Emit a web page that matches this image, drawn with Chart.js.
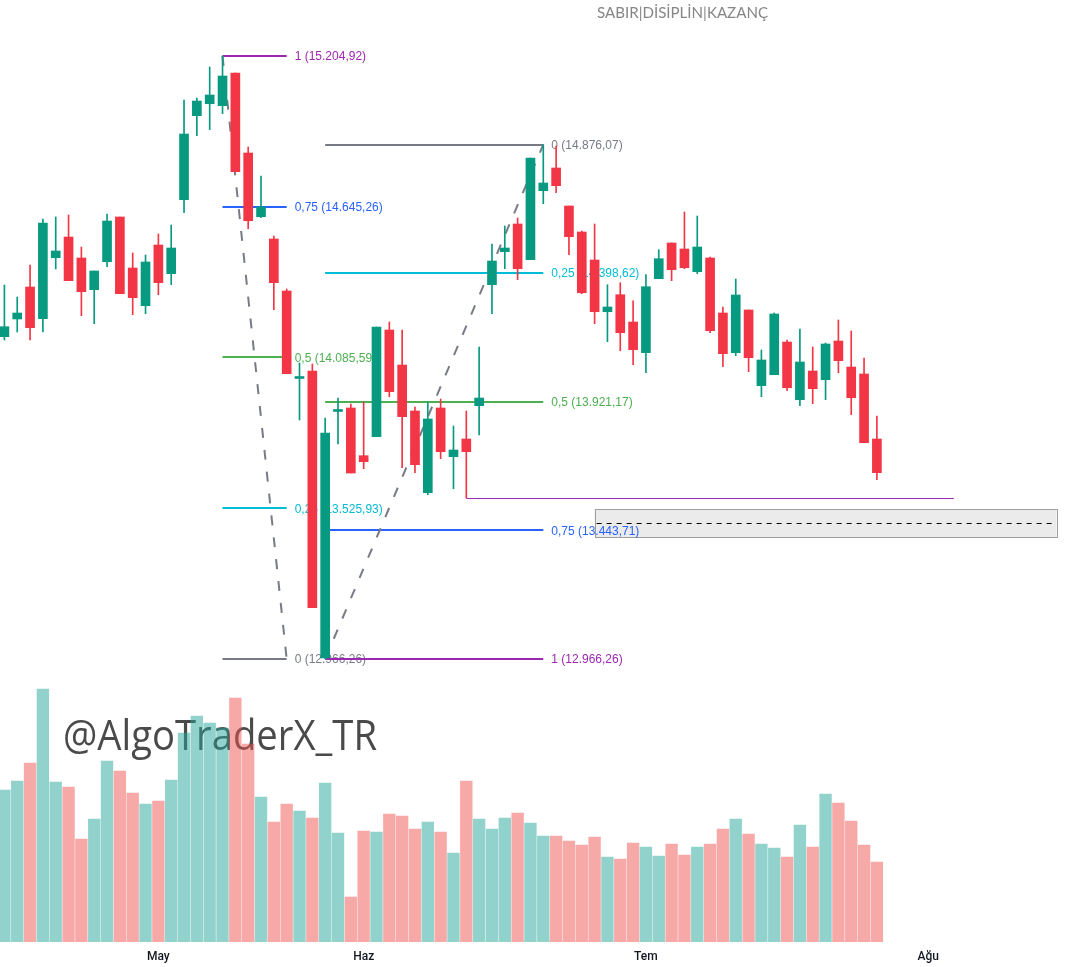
<!DOCTYPE html>
<html><head><meta charset="utf-8">
<script src="https://cdn.jsdelivr.net/npm/chart.js@4.4.1/dist/chart.umd.min.js"></script>
<style>html,body{margin:0;padding:0;background:#fff;overflow:hidden}#wrap{width:1085px;height:967px;position:relative}canvas{display:block}</style>
</head><body><div id="wrap"><canvas id="c" width="1085" height="967"></canvas></div>
<script>
// ---- data (daily candles, index 0..68) ----
const opens = [14162.8,14228.5,14347.3,14229.6,14456.1,14532.9,14455.0,14337.3,14441.2,14607.2,
14417.8,14277.9,14503.2,14396.7,14671.4,14983.3,15027.8,15020.4,15141.8,14844.8,
14608.3,14525.5,14332.5,14007.6,14035.4,12970.0,13885.1,13898.1,13721.0,13791.5,
14187.7,14057.7,13887.0,13583.6,13898.1,13717.3,13783.0,13906.6,14355.8,14478.4,
14581.2,14448.7,14704.8,14789.1,14648.0,14551.5,14447.5,14255.6,14318.7,14217.4,
14103.4,14378.1,14510.7,14488.4,14404.1,14455.0,14250.8,14103.4,14261.9,13980.9,
14021.7,14143.1,13928.9,14035.4,14003.2,14146.8,14050.3,14024.3,13783.0];
const highs = [14354.7,14310.2,14429.0,14599.8,14607.2,14614.6,14495.8,14406.7,14618.3,14607.2,
14473.5,14466.1,14544.1,14577.5,15041.5,15049.0,15164.1,15204.92,15141.8,14867.1,
14759.4,14536.6,14339.9,14065.1,14061.4,13861.0,13935.2,13912.9,13920.4,14198.8,
14217.4,14187.7,13901.8,13920.4,13931.5,13831.3,13887.0,14124.6,14506.9,14573.8,
14603.5,14826.2,14876.07,14870.8,14648.0,14555.2,14581.2,14355.8,14363.3,14296.4,
14393.0,14485.8,14510.7,14625.7,14610.9,14458.7,14273.1,14377.0,14261.9,14113.4,
14250.8,14150.5,14191.4,14124.6,14139.4,14224.8,14184.0,14083.7,13868.4];
const lows = [14150.5,14180.2,14150.5,14180.2,14414.1,14370.7,14240.8,14211.0,14422.7,14322.4,
14244.5,14248.2,14318.7,14355.8,14623.1,14909.0,14931.3,14990.7,14775.4,14563.7,
14604.6,14263.0,14025.4,13853.5,13156.7,12966.26,13764.4,13656.8,13672.7,13791.5,
13940.0,13676.4,13657.9,13576.2,13709.9,13598.5,13564.0,13797.8,14248.2,14415.2,
14374.4,14448.7,14656.6,14697.4,14467.2,14322.4,14211.0,14144.2,14110.8,14058.8,
14029.1,14378.1,14370.7,14415.2,14396.7,14177.6,14051.4,14092.3,14032.9,13940.0,
14021.7,13962.3,13906.6,13914.1,13928.9,14029.1,13873.2,13769.3,13631.9];
const closes = [14199.9,14250.8,14196.2,14584.9,14481.0,14370.7,14329.9,14406.7,14592.3,14322.4,
14307.6,14440.1,14363.3,14492.1,14915.3,15037.8,15060.1,15130.6,14775.4,14593.4,
14644.3,14363.3,14025.4,14011.3,13156.7,13805.3,13888.8,13656.8,13698.7,14198.8,
13958.6,13865.8,13687.6,13857.3,13735.8,13742.2,13735.8,13935.2,14443.8,14492.1,
14415.2,14826.2,14733.4,14723.4,14534.0,14326.1,14255.6,14273.1,14177.6,14114.5,
14348.4,14452.4,14411.5,14419.0,14495.8,14185.1,14099.7,14317.6,14084.8,14076.3,
14247.1,13973.4,14068.9,13969.7,14135.7,14073.7,13936.3,13769.3,13657.9];
const volumes = [60.8,64.4,71.6,101.2,64.0,62.0,41.2,49.2,72.4,68.4,
59.6,55.2,56.4,64.8,83.6,90.4,87.6,85.6,97.6,79.2,
58.0,48.0,55.2,52.4,49.6,63.6,43.6,18.0,44.4,44.0,
51.2,50.4,45.2,48.0,44.0,35.6,64.4,49.2,45.2,49.6,
51.6,47.6,42.4,42.4,40.4,38.8,42.0,34.0,33.2,39.6,
38.0,34.4,39.2,34.8,38.0,39.2,45.2,49.2,43.2,39.2,
37.6,34.0,46.8,38.0,59.2,55.6,48.4,38.8,32.0];

// month tick positions (bar index) and labels
const monthTickIndex = [12, 28, 50, 72];
const monthLabels = ['May', 'Haz', 'Tem', 'Ağu'];

// Fibonacci retracement #1 (bar 17 high -> bar 22)
const fib1Start = 17, fib1End = 22;
const fib1Ratios = ['1', '0,75', '0,5', '0,25', '0'];
const fib1Prices = [15204.92, 14645.26, 14085.59, 13525.93, 12966.26];
// Fibonacci retracement #2 (bar 25 low -> bar 42 high)
const fib2Start = 25, fib2End = 42;
const fib2Ratios = ['0', '0,25', '0,5', '0,75', '1'];
const fib2Prices = [14876.07, 14398.62, 13921.17, 13443.71, 12966.26];

// horizontal line from bar 36 low
const hLineStart = 36, hLineEnd = 74;
// rectangle zone
const zoneStart = 46, zoneEnd = 82;
const zoneTop = 13523.1, zoneBottom = 13419.2;

const UP = '#089981', DN = '#F23645';
const VUP = 'rgba(38,166,154,0.5)', VDN = 'rgba(239,83,80,0.5)';
const ratioColor = {'1':'#9C27B0','0,75':'#2962FF','0,5':'#4CAF50','0,25':'#00BCD4','0':'#787B86'};

const idx = opens.map((_, i) => i);
const isUp = i => closes[i] >= opens[i];

function fmtTR(v){
  const s = v.toFixed(2).split('.');
  return s[0].replace(/\B(?=(\d{3})+(?!\d))/g, '.') + ',' + s[1];
}

const drawings = {
  id: 'drawings',
  beforeDatasetsDraw(chart){
    const {ctx, chartArea: a, scales: {x, y}} = chart;
    ctx.save();
    ctx.beginPath(); ctx.rect(a.left, a.top, a.right - a.left, a.bottom - a.top); ctx.clip();

    // watermark
    ctx.font = '42px "Open Sans"';
    const wt = '@AlgoTraderX_TR';
    const w = ctx.measureText(wt).width;
    ctx.save();
    ctx.translate(63, 750);
    ctx.scale(314 / w, 1);
    ctx.fillStyle = '#4a4a4a';
    ctx.textBaseline = 'alphabetic';
    ctx.fillText(wt, 0, 0);
    ctx.restore();

    // rectangle zone
    const rx1 = x.getPixelForValue(zoneStart), rx2 = x.getPixelForValue(zoneEnd);
    const ry1 = y.getPixelForValue(zoneTop), ry2 = y.getPixelForValue(zoneBottom);
    ctx.fillStyle = '#EBEBEB';
    ctx.fillRect(rx1, ry1, rx2 - rx1, ry2 - ry1);
    ctx.strokeStyle = '#9E9E9E'; ctx.lineWidth = 1;
    ctx.strokeRect(Math.round(rx1) + 0.5, Math.round(ry1) + 0.5, Math.round(rx2 - rx1), Math.round(ry2 - ry1));
    const rmid = Math.round(y.getPixelForValue((zoneTop + zoneBottom) / 2)) + 0.5;
    ctx.setLineDash([5, 5]);
    ctx.strokeStyle = '#000';
    ctx.beginPath(); ctx.moveTo(rx1 + 2, rmid); ctx.lineTo(rx2 - 4, rmid); ctx.stroke();
    ctx.setLineDash([]);

    // horizontal purple line
    const hy = Math.round(y.getPixelForValue(lows[hLineStart])) + 0.5;
    ctx.strokeStyle = '#9C27B0'; ctx.lineWidth = 1;
    ctx.beginPath(); ctx.moveTo(x.getPixelForValue(hLineStart), hy); ctx.lineTo(x.getPixelForValue(hLineEnd), hy); ctx.stroke();

    // fibs
    function drawFib(s, e, ratios, prices, trendFrom, trendTo){
      const x1 = x.getPixelForValue(s), x2 = x.getPixelForValue(e);
      ctx.lineWidth = 2;
      ratios.forEach((r, k) => {
        const py = Math.round(y.getPixelForValue(prices[k]));
        ctx.strokeStyle = ratioColor[r];
        ctx.beginPath(); ctx.moveTo(x1, py); ctx.lineTo(x2, py); ctx.stroke();
      });
      // trend dashed line
      ctx.strokeStyle = '#787B86'; ctx.lineWidth = 2; ctx.setLineDash([10, 12]);
      ctx.beginPath();
      ctx.moveTo(x1, y.getPixelForValue(trendFrom));
      ctx.lineTo(x2, y.getPixelForValue(trendTo));
      ctx.stroke();
      ctx.setLineDash([]);
      ctx.font = '12px "Liberation Sans"';
      ctx.textBaseline = 'middle';
      ratios.forEach((r, k) => {
        const py = y.getPixelForValue(prices[k]) + 1;
        ctx.fillStyle = ratioColor[r];
        ctx.fillText(r + ' (' + fmtTR(prices[k]) + ')', x2 + 8, py);
      });
    }
    drawFib(fib1Start, fib1End, fib1Ratios, fib1Prices, highs[fib1Start], fib1Prices[4]);
    drawFib(fib2Start, fib2End, fib2Ratios, fib2Prices, lows[fib2Start], highs[fib2End]);
    ctx.restore();
  },
  afterDraw(chart){
    const ctx = chart.ctx;
    ctx.save();
    ctx.font = '16px Lato';
    const t = 'SABIR|DİSİPLİN|KAZANÇ';
    const w = ctx.measureText(t).width;
    ctx.translate(597, 13);
    ctx.scale(171 / w, 1);
    ctx.fillStyle = '#868686';
    ctx.textBaseline = 'middle';
    ctx.fillText(t, 0, 0);
    ctx.restore();
  }
};

new Chart(document.getElementById('c').getContext('2d'), {
  type: 'bar',
  data: {
    datasets: [
      { label: 'body', yAxisID: 'y', order: 1, grouped: false, barThickness: 9, minBarLength: 2,
        data: idx.map(i => ({x: i, y: [opens[i], closes[i]]})),
        backgroundColor: idx.map(i => isUp(i) ? UP : DN) },
      { label: 'wick', yAxisID: 'y', order: 2, grouped: false, barThickness: 1,
        data: idx.map(i => ({x: i, y: [lows[i], highs[i]]})),
        backgroundColor: idx.map(i => isUp(i) ? UP : DN) },
      { label: 'volume', yAxisID: 'yv', order: 3, grouped: false, barThickness: 11.7,
        data: idx.map(i => ({x: i, y: volumes[i]})),
        backgroundColor: idx.map(i => isUp(i) ? VUP : VDN) }
    ]
  },
  options: {
    responsive: false, animation: false, devicePixelRatio: 1,
    layout: { padding: 0 },
    plugins: { legend: { display: false }, tooltip: { enabled: false } },
    scales: {
      x: {
        type: 'linear', min: -0.343, max: 84.22, offset: false,
        grid: { display: false, drawTicks: false }, border: { display: false },
        afterBuildTicks: s => { s.ticks = monthTickIndex.map(v => ({ value: v })); },
        afterFit: s => { s.height = 25; },
        ticks: { autoSkip: false, maxRotation: 0, padding: 8, color: '#131722',
          font: { family: 'Roboto', size: 12, weight: '500' },
          callback: v => { const k = monthTickIndex.indexOf(v); return k >= 0 ? monthLabels[k] : ''; } }
      },
      y: { display: false, min: 11915.6, max: 15412.8 },
      yv: { display: false, min: 0, max: 376.8 }
    }
  },
  plugins: [drawings]
});
</script></body></html>
